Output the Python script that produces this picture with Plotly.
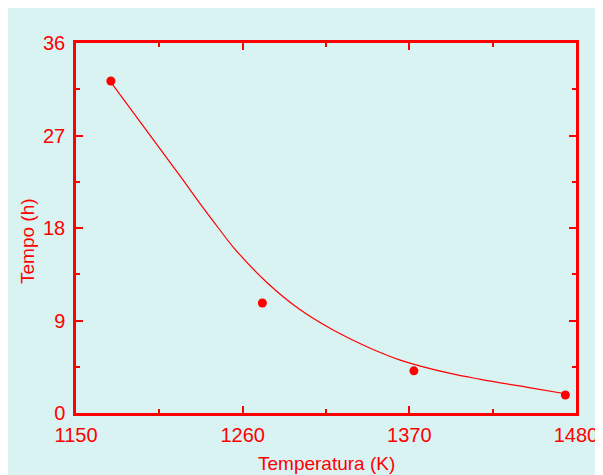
import plotly.graph_objects as go

# measured data points
temp_k = [1173, 1273, 1373, 1473]
tempo_h = [32.3, 10.7, 4.1, 1.75]

# fitted curve
curve_x = [1173, 1200, 1220, 1232, 1244, 1254, 1276, 1298, 1320, 1342, 1364, 1397, 1417, 1450, 1473]
curve_y = [32.2, 26.8, 22.8, 20.35, 18.0, 16.1, 12.7, 10.04, 8.05, 6.45, 5.15, 3.85, 3.28, 2.45, 1.87]

x_ticks = [1150, 1260, 1370, 1480]
y_ticks = [0, 9, 18, 27, 36]

RED = "#ff0000"
BG = "#d9f3f3"
FONT = "Arial, Liberation Sans, sans-serif"

fig = go.Figure()
fig.add_trace(go.Scatter(x=curve_x, y=curve_y, mode="lines",
                         line=dict(color=RED, width=1.2, shape="spline", smoothing=1.0),
                         hoverinfo="skip", showlegend=False))
fig.add_trace(go.Scatter(x=temp_k, y=tempo_h, mode="markers",
                         marker=dict(color=RED, size=9), cliponaxis=False, showlegend=False))

axis_common = dict(showline=True, linecolor=RED, linewidth=2.5, mirror="allticks",
                   ticks="inside", tickcolor=RED, tickwidth=2, ticklen=7,
                   showgrid=False, zeroline=False,
                   tickfont=dict(family=FONT, size=20, color=RED))

fig.update_xaxes(range=[1150, 1480], tickvals=x_ticks, ticktext=[str(v) for v in x_ticks],
                 ticklabelstandoff=2,
                 minor=dict(ticks="inside", ticklen=4, tickwidth=2, tickcolor=RED, dtick=55, tick0=1150),
                 **axis_common)
fig.update_yaxes(range=[0, 36], tickvals=y_ticks, ticktext=[str(v) for v in y_ticks],
                 ticklabelstandoff=4,
                 minor=dict(ticks="inside", ticklen=4, tickwidth=2, tickcolor=RED, dtick=4.5, tick0=0),
                 **axis_common)

fig.add_annotation(text="Temperatura (K)", xref="paper", yref="paper", x=0.5, y=-50 / 370,
                   xanchor="center", yanchor="middle", showarrow=False,
                   font=dict(family=FONT, size=19, color=RED))
fig.add_annotation(text="Tempo (h)", xref="paper", yref="paper", x=-49 / 500, y=172 / 370,
                   xanchor="center", yanchor="middle", textangle=-90, showarrow=False,
                   font=dict(family=FONT, size=19, color=RED))

fig.update_layout(width=603, height=475, margin=dict(l=68, r=35, t=35, b=70),
                  paper_bgcolor=BG, plot_bgcolor=BG, showlegend=False)

fig.write_html("out.html")
